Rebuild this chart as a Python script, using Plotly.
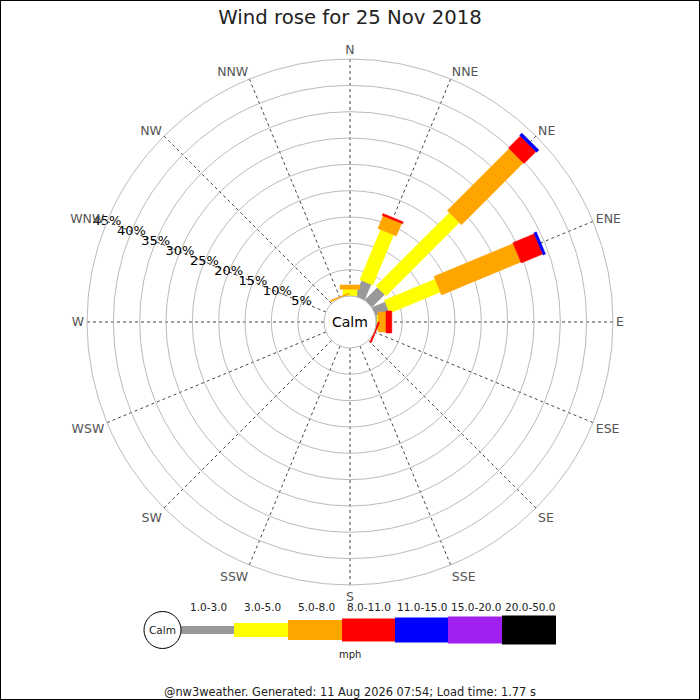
import math
import plotly.graph_objects as go

# wind rose for 25 Nov 2018: % of the day in each speed band, by direction
directions = ['N', 'NNE', 'NE', 'ENE', 'E', 'ESE', 'SE', 'SSE',
              'S', 'SSW', 'SW', 'WSW', 'W', 'WNW', 'NW', 'NNW']
speed_bins = ['1.0-3.0', '3.0-5.0', '5.0-8.0', '8.0-11.0',
              '11.0-15.0', '15.0-20.0', '20.0-50.0']

pct_1_3 = [0, 3.2, 3.4, 2.7, 0.2, 0, 0, 0, 0, 0, 0, 0, 0, 0, 0, 0]
pct_3_5 = [1.3, 10.3, 19.7, 10.4, 0.2, 0, 0, 0, 0, 0, 0, 0, 0, 0, 0, 0]
pct_5_8 = [0.8, 2.6, 16.6, 16.3, 1.5, 0, 0, 0, 0, 0, 0, 0, 0, 0, 0, 0.25]
pct_8_11 = [0, 0.4, 3.2, 4.4, 1.1, 0.3, 0, 0, 0, 0, 0, 0, 0, 0, 0, 0]
pct_11_15 = [0, 0, 0.6, 0.5, 0, 0, 0, 0, 0, 0, 0, 0, 0, 0, 0, 0]
pct_15_20 = [0] * 16
pct_20_50 = [0] * 16

radial_ticks = [5, 10, 15, 20, 25, 30, 35, 40, 45]

title = 'Wind rose for 25 Nov 2018'
footer = '@nw3weather. Generated: 11 Aug 2026 07:54; Load time: 1.77 s'

# styles
bin_colors = ['#999999', '#ffff00', '#ffa500', '#ff0000',
              '#0000ff', '#a020f0', '#000000']
bin_widths = [10, 14, 20, 22, 24, 26, 28]   # bar thickness in px
legend_heights = [8, 14, 20, 23, 25, 27, 29]

W = H = 700
CX, CY = 350, 322
R_PX, HOLE_PX = 263, 26
RMAX = 45
RADIAL_LABEL_DIR = 292.5
unit_px = (R_PX - HOLE_PX) / RMAX
r0 = HOLE_PX / unit_px


def px(x, y):
    return x / W, 1 - y / H


def bar_outline(theta, r1, r2, width_px):
    # straight-sided bar (not a wedge) between r1 and r2
    hw = width_px / 2 / unit_px
    rs, ts = [], []
    for a, s in ((r0 + r1, -1), (r0 + r2, -1), (r0 + r2, 1), (r0 + r1, 1), (r0 + r1, -1)):
        rs.append(math.hypot(a, hw) - r0)
        ts.append(theta + s * math.degrees(math.atan2(hw, a)))
    return rs, ts


def note(x, y, text, size, color='#222'):
    ax, ay = px(x, y)
    return dict(x=ax, y=ay, xref='paper', yref='paper', text=text,
                xanchor='center', yanchor='middle', showarrow=False,
                font=dict(size=size, color=color))


fig = go.Figure()
series = [pct_1_3, pct_3_5, pct_5_8, pct_8_11, pct_11_15, pct_15_20, pct_20_50]
angles = [i * 360 / len(directions) for i in range(len(directions))]
base = [0] * len(directions)
for k, vals in enumerate(series):
    for i, v in enumerate(vals):
        if v <= 0:
            continue
        rs, ts = bar_outline(angles[i], base[i], base[i] + v, bin_widths[k])
        fig.add_trace(go.Scatterpolar(
            r=rs, theta=ts, mode='lines', fill='toself',
            fillcolor=bin_colors[k], line=dict(color=bin_colors[k], width=0.5),
            name=speed_bins[k], showlegend=False, hoverinfo='skip'))
        base[i] += v

# ring labels along the WNW spoke
fig.add_trace(go.Scatterpolar(
    r=radial_ticks, theta=[RADIAL_LABEL_DIR] * len(radial_ticks),
    mode='text', text=[f'{v}%' for v in radial_ticks],
    textfont=dict(size=13, color='black'), cliponaxis=False,
    showlegend=False, hoverinfo='skip'))

d0x, d0y = px(CX - R_PX, CY + R_PX)
d1x, d1y = px(CX + R_PX, CY - R_PX)

fig.update_layout(
    width=W, height=H,
    margin=dict(l=0, r=0, t=0, b=0),
    paper_bgcolor='white',
    font=dict(family='DejaVu Sans', color='#222'),
    title=dict(text=title, x=0.5, xanchor='center', y=1 - 17 / H, yanchor='middle',
               font=dict(size=19.7, color='#222')),
    polar=dict(
        domain=dict(x=[d0x, d1x], y=[d0y, d1y]),
        hole=HOLE_PX / R_PX,
        bgcolor='white',
        radialaxis=dict(
            range=[0, RMAX], tickmode='array',
            tickvals=[0] + radial_ticks,
            angle=157.5, showline=False, ticks='', showticklabels=False,
            gridcolor='#bbbbbb', gridwidth=1,
        ),
        angularaxis=dict(
            direction='clockwise', rotation=90, thetaunit='degrees',
            tickmode='array', tickvals=angles, ticktext=directions,
            gridcolor='#444444', griddash='dot', gridwidth=1,
            showline=True, linecolor='#bbbbbb', linewidth=1, ticks='',
            tickfont=dict(size=12.5, color='#555555'),
        ),
    ),
)

shapes = []
annotations = [note(CX, CY, 'Calm', 14, 'black')]

# speed legend along the bottom
LEG_Y = 630
seg_x = [181, 234, 288, 342, 395, 448, 502, 556]
for k, name in enumerate(speed_bins):
    xa, ya = px(seg_x[k], LEG_Y + legend_heights[k] / 2)
    xb, yb = px(seg_x[k + 1], LEG_Y - legend_heights[k] / 2)
    shapes.append(dict(type='rect', xref='paper', yref='paper',
                       x0=xa, x1=xb, y0=ya, y1=yb,
                       fillcolor=bin_colors[k], line=dict(width=0)))
    annotations.append(note((seg_x[k] + seg_x[k + 1]) / 2 + 1, 607, name, 10.5))

ca, cb = px(162.5 - 18.5, LEG_Y + 18.5)
cc, cd = px(162.5 + 18.5, LEG_Y - 18.5)
shapes.append(dict(type='circle', xref='paper', yref='paper',
                   x0=ca, x1=cc, y0=cb, y1=cd, fillcolor='white',
                   line=dict(color='black', width=1)))
annotations.append(note(162.5, LEG_Y, 'Calm', 10.5))
annotations.append(note(350, 654, 'mph', 10))
annotations.append(note(350, 692, footer, 11.4))

# frame
shapes.append(dict(type='rect', xref='paper', yref='paper', x0=0, x1=1, y0=0, y1=1,
                   line=dict(color='black', width=2)))

fig.update_layout(shapes=shapes, annotations=annotations)

fig.write_html('out.html', config={'displayModeBar': False},
               post_script="document.body.style.margin='0';")
